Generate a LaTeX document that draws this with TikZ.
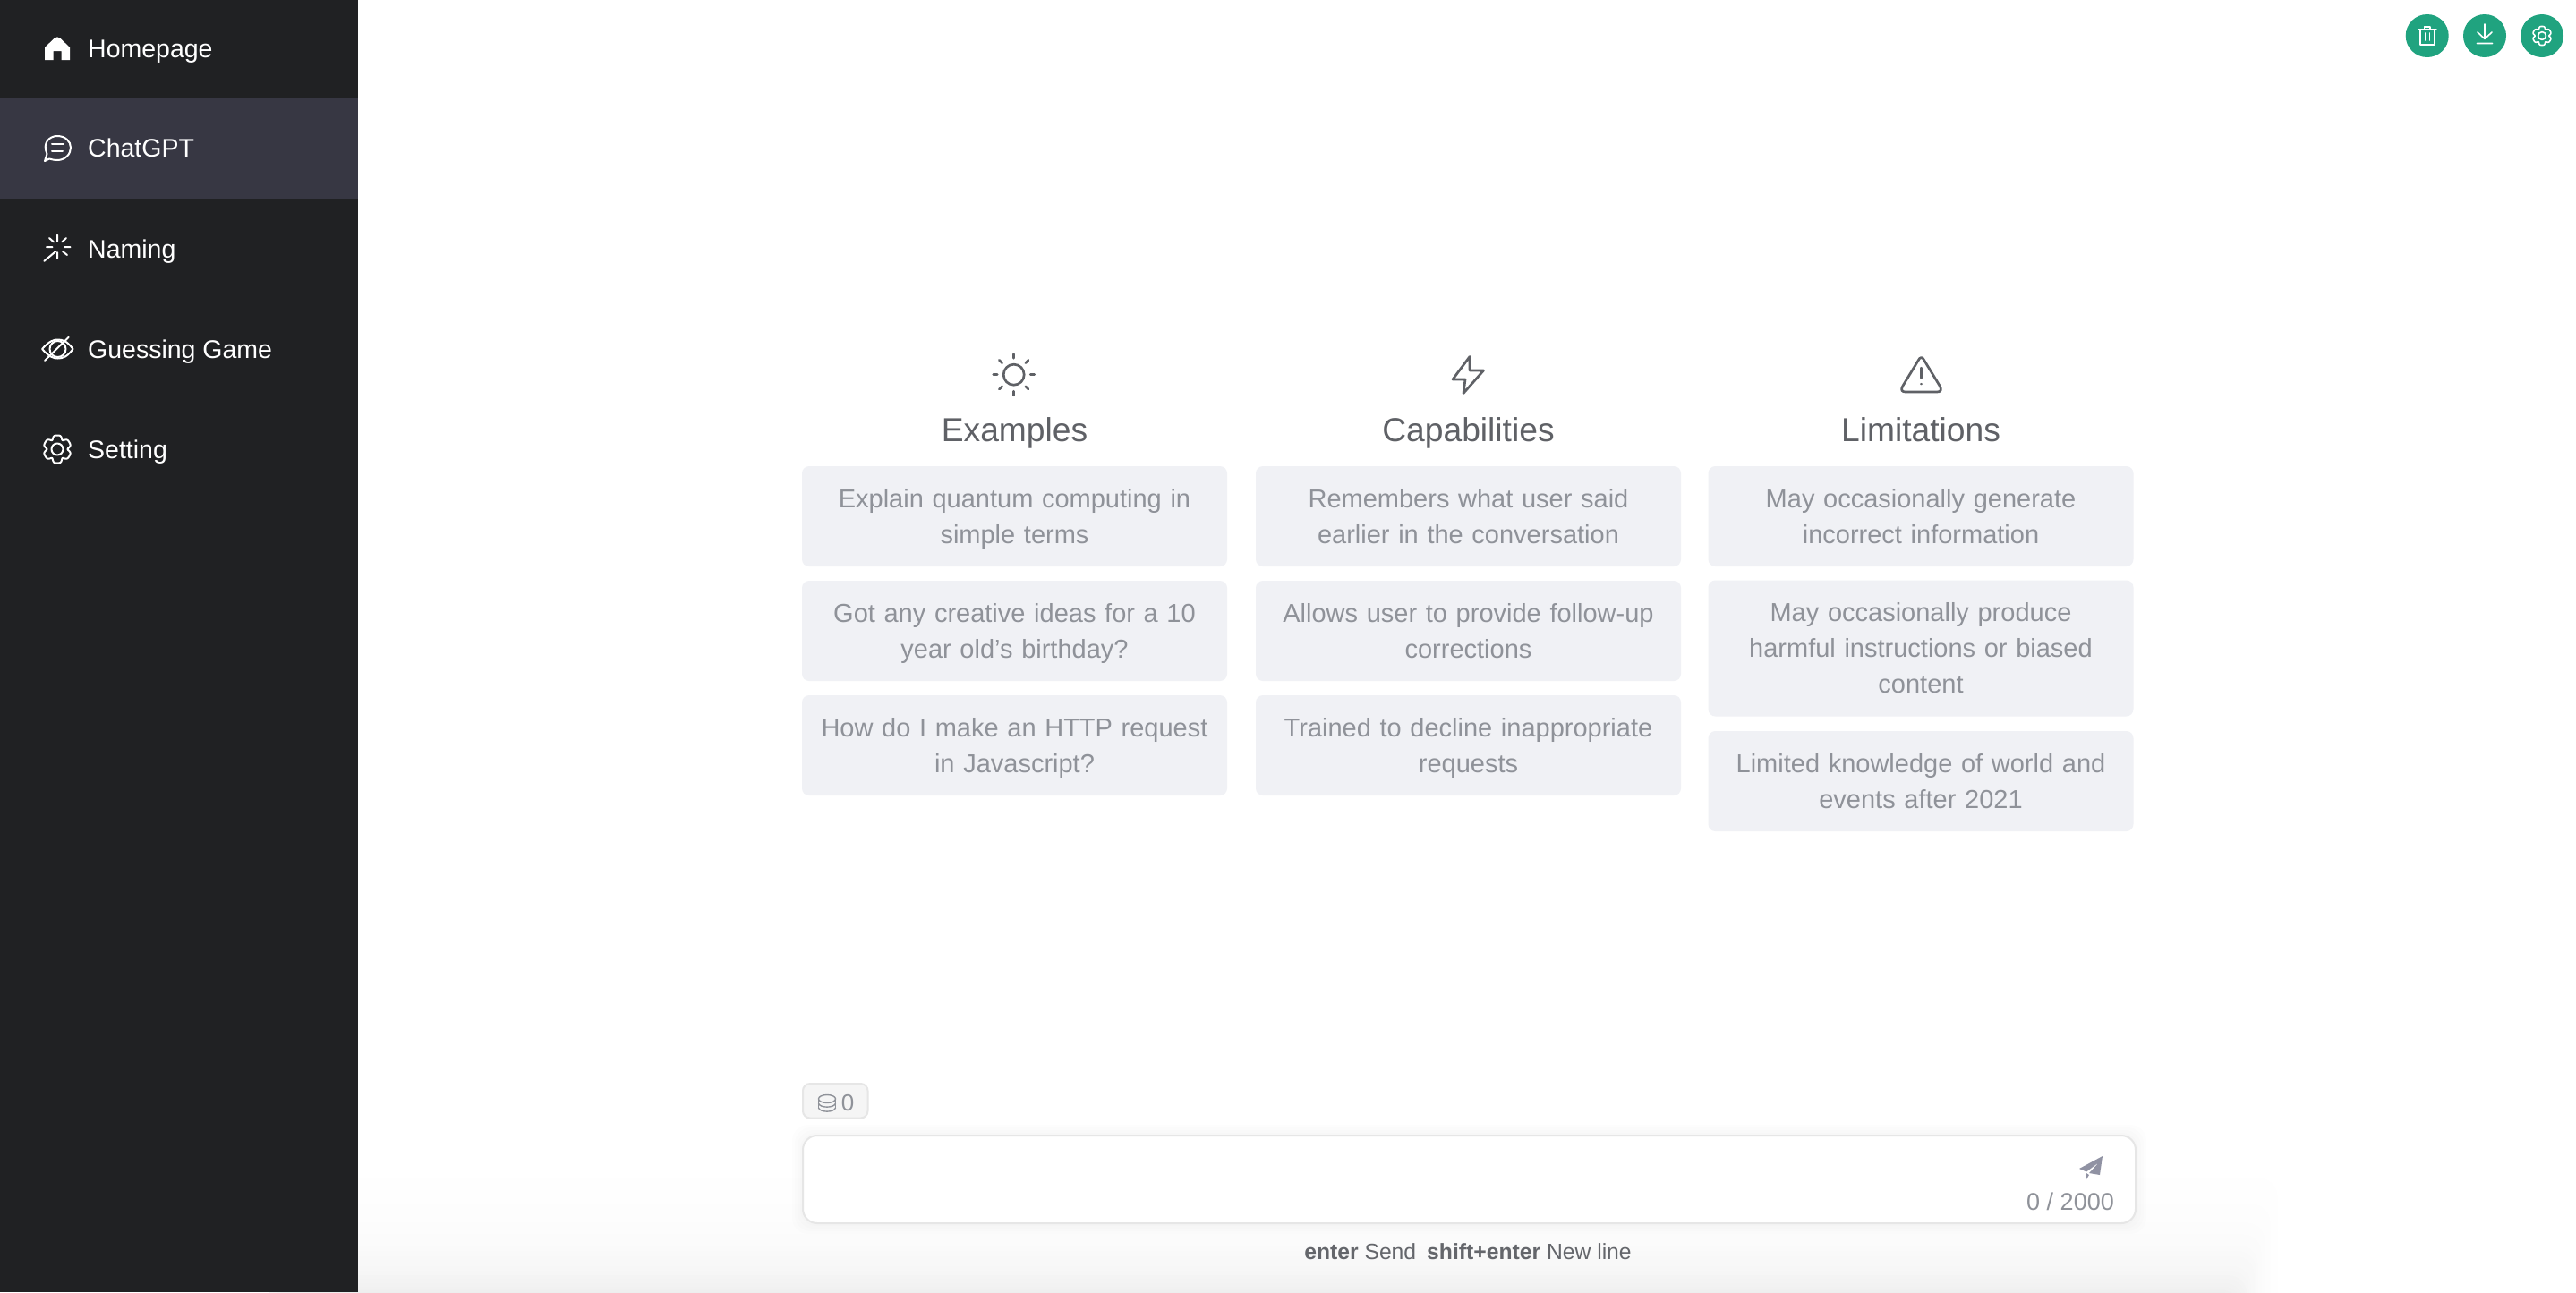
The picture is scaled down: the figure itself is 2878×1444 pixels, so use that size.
\documentclass[tikz,border=0pt]{standalone}
\usepackage{fontspec}
\setmainfont{Liberation Sans}
\definecolor{side}{HTML}{202123}
\definecolor{sideact}{HTML}{373743}
\definecolor{teal}{HTML}{20A37F}
\definecolor{cardbg}{HTML}{F0F1F5}
\definecolor{cardtx}{HTML}{8F9299}
\definecolor{headtx}{HTML}{5F6166}
\definecolor{linegr}{HTML}{E6E6E6}
\definecolor{sendc}{HTML}{9092A3}
\tikzset{
  card/.style={fill=cardbg,rounded corners=8pt,inner sep=0pt,minimum width=475pt,text width=465pt,align=center,text=cardtx,font=\fontsize{29}{40}\selectfont,
    execute at begin node={\rule[-10pt]{0pt}{40pt}},execute at end node={\rule[-10pt]{0pt}{40pt}}},
  head/.style={inner sep=0pt,text=headtx,font=\fontsize{37.2}{42}\selectfont,anchor=base},
  menu/.style={inner sep=0pt,text=white,font=\fontsize{28.5}{32}\selectfont,anchor=base west},
  ico/.style={draw=white,line width=2pt,line cap=round,line join=round},
  hico/.style={draw=headtx,line width=2.7pt,line cap=round,line join=round},
  tico/.style={draw=white,line width=1.6pt,line cap=round,line join=round},
  gearicon/.pic={
    \draw[pic actions] plot[domain=0:359,samples=120] (\x:{15.5-4*((0.5+0.5*cos(6*\x))^3)}) -- cycle;
    \draw[pic actions] (0,0) circle (6.5);
  }
}
\begin{document}
\begin{tikzpicture}[x=1pt,y=-1pt]
\useasboundingbox (0,0) rectangle (2878,1444);
\fill[white] (0,0) rectangle (2878,1444);
% bottom page shadow
\foreach \i in {1,...,30}{
  \pgfmathsetmacro{\p}{6.8*(\i/30)^2.7}
  \pgfmathsetmacro{\t}{1444-190*(1-\i/30)^1.3}
  \pgfmathsetmacro{\r}{2500+60*(1-\i/30)}
  \fill[black!\p!white,rounded corners=20pt] (300,\t) rectangle (\r,1500);
}
% sidebar
\fill[side] (0,0) rectangle (400,1444);
\fill[sideact] (0,110) rectangle (400,222);
\node[menu] (m1) at (98,64) {Homepage};
\node[menu] (m2) at (98,175.7) {ChatGPT};
\node[menu] (m3) at (98,288) {Naming};
\node[menu] (m4) at (98,400) {Guessing Game};
\node[menu] (m5) at (98,512) {Setting};
% home icon
\fill[white,even odd rule] (50,53) -- (61,42.5) .. controls (63,41) and (65,41) .. (67,42.5) -- (78,53) -- (78,67) -- (68.5,67) -- (68.5,57) -- (59.5,57) -- (59.5,67) -- (50,67) -- cycle;
% chat icon
\draw[ico] (50,180) -- (52.5,172) .. controls (47,160) and (55,152) .. (64,152) .. controls (73,152) and (79,158) .. (79,165) .. controls (79,172) and (73,179) .. (64,179) .. controls (60,179) and (57,178) .. (55,177.5) -- cycle;
\draw[ico] (58,161.4) -- (71,161.4) (58,169) -- (70,169);
% naming icon
\draw[ico] (64,262.5) -- (64,269.6) (64,282) -- (64,288.6)
  (52,276) -- (58.5,276) (72,276) -- (78.5,276)
  (55,266) -- (60,270.4) (74,266) -- (69.3,270.4)
  (75,285) -- (70,281) (49.3,291.8) -- (62.3,281);
% eye icon
\draw[ico] (47,390) .. controls (55,381) and (60,379.5) .. (64.5,379.5) .. controls (70,379.5) and (75,381) .. (81.5,390) .. controls (75,399) and (70,400.5) .. (64.5,400.5) .. controls (60,400.5) and (55,399) .. (47,390) -- cycle;
\draw[ico] (64.5,390) circle (9);
\draw[ico] (50,403) -- (76.7,376.8);
% setting icon
\pic[ico] at (64,502) {gearicon};
% top right buttons
\node[circle,fill=teal,minimum size=48pt,inner sep=0pt] (b1) at (2711.7,40) {};
\node[circle,fill=teal,minimum size=48pt,inner sep=0pt] (b2) at (2776,40) {};
\node[circle,fill=teal,minimum size=48pt,inner sep=0pt] (b3) at (2840,40) {};
\draw[tico] (2702,33) -- (2722,33) (2708.5,33) -- (2708.5,30) -- (2715,30) -- (2715,33)
  (2704,33) -- (2704,50) -- (2720,50) -- (2720,33) (2709.5,37) -- (2709.5,45) (2714.5,37) -- (2714.5,45);
\draw[tico] (2776,27) -- (2776,43) (2768,36) -- (2776,43.5) -- (2784,36) (2767.5,48.5) -- (2784.5,48.5);
\pic[tico,scale=0.68] at (2840,40) {gearicon};
% column icons
\draw[hico] (1132.7,418.7) circle (11.5);
\foreach \a in {0,45,...,315}{
  \draw[hico] (1132.7,418.7) ++(\a:18.5) -- ++(\a:4.5);
}
\draw[hico] (1642,398.5) -- (1623,424) -- (1637,424) -- (1635,439.5) -- (1657.5,414) -- (1642,414) -- cycle;
\draw[hico] (2146.5,399.5) .. controls (2148,399.5) and (2149,401) .. (2150,403) -- (2167,431) .. controls (2170,436) and (2168,438) .. (2164,438) -- (2129,438) .. controls (2125,438) and (2123,436) .. (2126,431) -- (2143,403) .. controls (2144,401) and (2145,399.5) .. (2146.5,399.5) -- cycle;
\draw[hico,line width=2.4pt] (2146.5,411) -- (2146.5,422.5) (2146.5,429) -- (2146.5,429.2);
% headings
\node[head] (h1) at (1133.5,493.5) {Examples};
\node[head] (h2) at (1640.5,493.5) {Capabilities};
\node[head] (h3) at (2146,493.5) {Limitations};
% cards
\node[card,minimum height=112pt] (c11) at (1133.5,577) {Explain quantum computing in\\simple terms};
\node[card,minimum height=112pt] (c12) at (1133.5,705) {Got any creative ideas for a 10\\year old’s birthday?};
\node[card,minimum height=112pt] (c13) at (1133.5,833) {How do I make an HTTP request\\in Javascript?};
\node[card,minimum height=112pt] (c21) at (1640.5,577) {Remembers what user said\\earlier in the conversation};
\node[card,minimum height=112pt] (c22) at (1640.5,705) {Allows user to provide follow-up\\corrections};
\node[card,minimum height=112pt] (c23) at (1640.5,833) {Trained to decline inappropriate\\requests};
\node[card,minimum height=112pt] (c31) at (2146,577) {May occasionally generate\\incorrect information};
\node[card,minimum height=152pt] (c32) at (2146,724.5) {May occasionally produce\\harmful instructions or biased\\content};
\node[card,minimum height=112pt] (c33) at (2146,873) {Limited knowledge of world and\\events after 2021};
% badge
\draw[draw=linegr,line width=2pt,fill=black!4,rounded corners=8pt] (897,1211) rectangle (969.5,1249.5);
\node[inner sep=0pt,text=cardtx,font=\fontsize{26}{30}\selectfont,anchor=base] (zero) at (947,1241) {0};
\begin{scope}[draw=cardtx,line width=1.4pt]
\draw (924,1228) ellipse (9.5 and 4.5);
\draw (914.5,1228) -- (914.5,1238) (933.5,1228) -- (933.5,1238);
\draw (914.5,1233) .. controls (916,1238.5) and (932,1238.5) .. (933.5,1233);
\draw (914.5,1238) .. controls (916,1243.5) and (932,1243.5) .. (933.5,1238);
\end{scope}
% input box
\foreach \s in {12,9,6,3}{
  \fill[black,fill opacity=0.007,rounded corners=18pt] (897-\s,1269-\s) rectangle (2386+\s,1367+\s);
}
\node[draw=linegr,line width=2pt,fill=white,rounded corners=16pt,minimum width=1489pt,minimum height=98pt,inner sep=0pt] (inbox) at (1641.5,1318) {};
\fill[sendc] (2349,1292) -- (2323,1306) -- (2331,1309.5) -- (2345,1299) -- (2334,1311) -- (2346,1313) -- cycle;
\fill[sendc] (2331,1311) -- (2334,1313) -- (2331,1318) -- cycle;
\node[inner sep=0pt,text=cardtx,font=\fontsize{27}{30}\selectfont,anchor=base east] (count) at (2362,1352) {0 / 2000};
% hint
\node[inner sep=0pt,text=cardtx!70!black,font=\fontsize{24.7}{28}\selectfont,anchor=base] (hint) at (1640,1407.5) {\textbf{enter} Send\hspace{12pt}\textbf{shift+enter} New line};
\end{tikzpicture}
\end{document}
